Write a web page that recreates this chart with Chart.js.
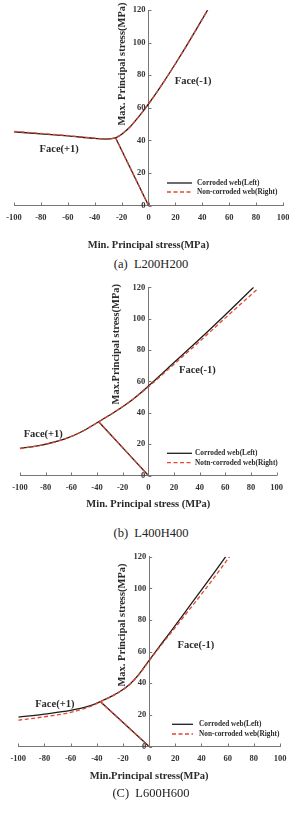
<!DOCTYPE html>
<html>
<head>
<meta charset="utf-8">
<script src="https://cdn.jsdelivr.net/npm/chart.js@4.4.1/dist/chart.umd.min.js"></script>
<style>
  html, body { margin: 0; padding: 0; background: #fff; }
  #page { position: relative; width: 289px; height: 814px; overflow: hidden; }
  #page canvas { position: absolute; left: 0; }
  .cap { position: absolute; left: 0; width: 302px; text-align: center; font: 12.5px 'Liberation Serif', 'Times New Roman', serif; color: #222; line-height: 14px; white-space: pre; }
</style>
</head>
<body>
<div id="page">
  <canvas id="chartA" width="289" height="256" style="top:0px"></canvas>
  <div class="cap" style="top:257px">(a)  L200H200</div>
  <canvas id="chartB" width="289" height="245" style="top:270px"></canvas>
  <div class="cap" style="top:526px">(b)  L400H400</div>
  <canvas id="chartC" width="289" height="247" style="top:540px"></canvas>
  <div class="cap" style="top:786px">(C)  L600H600</div>
</div>
<script>
// tick labels shared by all three panels
const xTicks = [-100, -80, -60, -40, -20, 0, 20, 40, 60, 80, 100];
const yTicks = [0, 20, 40, 60, 80, 100, 120];

// (a) L200H200
const aCorrX = [-100, -80, -60, -40, -32, -26, -22, -18, -14, -10, -5, 0, 10, 20, 30, 44];
const aCorrY = [45.2, 44, 42.7, 41.2, 40.8, 41.2, 42.6, 45, 48, 51.8, 56.9, 62.3, 74.2, 87, 100.4, 120];
const aNonX = [-100, -80, -60, -40, -32, -26, -22, -18, -14, -10, -5, 0, 10, 20, 30, 44];
const aNonY = [45.5, 44.2, 42.9, 41.3, 40.9, 41.3, 42.7, 45.1, 48, 51.8, 56.9, 62.3, 74.2, 87, 100.4, 120];
const aJointX = [-24.5, 0];
const aJointY = [41.6, 0];

// (b) L400H400
const bCorrX = [-100, -83, -65, -52, -38.7, -26, -13, 0, 20, 40, 60, 82];
const bCorrY = [17.2, 19.4, 23.3, 27.9, 34.3, 40.6, 48, 57, 72, 87, 102.5, 120];
const bNonX = [-100, -83, -65, -52, -38.7, -26, -13, 0, 20, 40, 60, 84.5];
const bNonY = [17.2, 19.4, 23.3, 27.9, 34.3, 40.6, 48, 56.5, 71, 85.5, 100.5, 118.5];
const bJointX = [-38.7, 0];
const bJointY = [34.3, 0];

// (c) L600H600
const cCorrX = [-100, -80, -60, -45, -37.4, -30, -22, -15, -10, -5, 0, 10, 20, 30, 40, 50, 58.5];
const cCorrY = [18.6, 20.5, 22.8, 25.8, 28.4, 31.2, 34.9, 39.2, 43.5, 48.8, 54.5, 65.6, 76.6, 87.8, 99, 110.3, 120];
const cNonX = [-100, -80, -60, -45, -37.4, -30, -22, -15, -10, -5, 0, 10, 20, 30, 40, 50, 61.5];
const cNonY = [16.6, 18.8, 21.6, 25.3, 28.2, 31.1, 34.8, 39, 43.3, 48.5, 54.2, 64.9, 75.3, 85.8, 96.3, 107.2, 120];
const cJointX = [-37.4, 0];
const cJointY = [28.4, 0];

const serif = "'Liberation Serif', 'Times New Roman', serif";
const black = '#1c1c1c';
const red = '#e4472f';

Chart.defaults.font.family = serif;

const toPts = (xs, ys) => xs.map((x, i) => ({ x, y: ys[i] }));

// draws inward ticks, y tick labels, the rotated y title, the Face labels and the legend
const extras = {
  id: 'extras',
  afterDraw(chart) {
    const o = chart.options.plugins.extras;
    const { ctx, scales: { x, y } } = chart;
    const x0 = x.getPixelForValue(0);
    ctx.save();
    ctx.strokeStyle = '#777';
    ctx.lineWidth = 1;
    ctx.beginPath();
    xTicks.forEach(v => {
      const px = Math.round(x.getPixelForValue(v)) + 0.5;
      ctx.moveTo(px, y.bottom);
      ctx.lineTo(px, y.bottom - 3);
    });
    yTicks.forEach(v => {
      const py = Math.round(y.getPixelForValue(v)) + 0.5;
      ctx.moveTo(x0, py);
      ctx.lineTo(x0 + 3, py);
    });
    ctx.stroke();

    ctx.fillStyle = '#333';
    ctx.font = 'bold 8.5px ' + serif;
    ctx.textAlign = 'right';
    ctx.textBaseline = 'middle';
    yTicks.forEach(v => {
      ctx.fillText(String(v), x0 - 3, y.getPixelForValue(v));
    });

    ctx.fillStyle = '#2a2a2a';
    ctx.font = 'bold 10.5px ' + serif;
    ctx.textAlign = 'center';
    ctx.save();
    ctx.translate(x0 + o.yTitleDx, o.yTitleY);
    ctx.rotate(-Math.PI / 2);
    ctx.fillText(o.yTitle, 0, 0);
    ctx.restore();

    o.faces.forEach(f => {
      ctx.fillText(f.text, x.getPixelForValue(f.x), y.getPixelForValue(f.y));
    });

    ctx.font = 'bold 7.3px ' + serif;
    ctx.textAlign = 'left';
    chart.data.datasets.slice(0, 2).forEach((ds, i) => {
      const ly = o.legend.y[i];
      ctx.strokeStyle = ds.borderColor;
      ctx.lineWidth = 1.3;
      ctx.setLineDash(ds.borderDash || []);
      ctx.beginPath();
      ctx.moveTo(o.legend.x1, ly);
      ctx.lineTo(o.legend.x2, ly);
      ctx.stroke();
      ctx.setLineDash([]);
      ctx.fillStyle = '#2a2a2a';
      ctx.fillText(ds.label, o.legend.tx, ly);
    });
    ctx.restore();
  }
};

function makeChart(id, p) {
  const tickFont = { size: 8.5, weight: 'bold', family: serif };
  const line = (label, xs, ys, color, dash, order) => ({
    label, data: toPts(xs, ys), showLine: true, borderColor: color, borderWidth: 1.3,
    borderDash: dash, pointRadius: 0, cubicInterpolationMode: 'monotone', order
  });
  return new Chart(document.getElementById(id), {
    type: 'scatter',
    data: {
      datasets: [
        line(p.leg1, p.corrX, p.corrY, black, [], 1),
        line(p.leg2, p.nonX, p.nonY, red, [4, 2.5], 0),
        line('', p.jointX, p.jointY, black, [], 1),
        line('', p.jointX, p.jointY, red, [4, 2.5], 0)
      ]
    },
    options: {
      responsive: false,
      animation: false,
      layout: { padding: p.pad },
      plugins: {
        legend: { display: false },
        tooltip: { enabled: false },
        extras: p.extras
      },
      scales: {
        x: {
          type: 'linear', position: 'bottom', min: -100, max: 100,
          afterBuildTicks: s => { s.ticks = xTicks.map(v => ({ value: v })); },
          ticks: { font: tickFont, color: '#333', padding: 7, maxRotation: 0, autoSkip: false },
          grid: { drawOnChartArea: false, drawTicks: false },
          border: { color: '#777', width: 1 },
          title: { display: true, text: p.xTitle, font: { size: 10.5, weight: 'bold', family: serif }, color: '#2a2a2a', padding: { top: 0, bottom: 4 } },
          afterFit: s => { s.height = p.axisH; s.paddingLeft = 0; s.paddingRight = 0; }
        },
        y: {
          type: 'linear', position: { x: 0 }, min: 0, max: 120,
          afterBuildTicks: s => { s.ticks = yTicks.map(v => ({ value: v })); },
          ticks: { display: false },
          grid: { drawOnChartArea: false, drawTicks: false },
          border: { color: '#777', width: 1 }
        }
      }
    },
    plugins: [extras]
  });
}

makeChart('chartA', {
  corrX: aCorrX, corrY: aCorrY, nonX: aNonX, nonY: aNonY, jointX: aJointX, jointY: aJointY,
  leg1: 'Corroded web(Left)', leg2: 'Non-corroded web(Right)',
  xTitle: 'Min. Principal stress(MPa)',
  pad: { left: 14, right: 6, top: 10, bottom: 0 }, axisH: 50.5,
  extras: {
    yTitle: 'Max. Principal stress(MPa)', yTitleDx: -26.7, yTitleY: 64,
    faces: [{ text: 'Face(+1)', x: -66.4, y: 34.5 }, { text: 'Face(-1)', x: 33.2, y: 76.3 }],
    legend: { x1: 167, x2: 192, tx: 197, y: [183, 192] }
  }
});

makeChart('chartB', {
  corrX: bCorrX, corrY: bCorrY, nonX: bNonX, nonY: bNonY, jointX: bJointX, jointY: bJointY,
  leg1: 'Corroded web(Left)', leg2: 'Notn-corroded web(Right)',
  xTitle: 'Min. Principal stress (MPa)',
  pad: { left: 20, right: 12.3, top: 17.3, bottom: 0 }, axisH: 39.5,
  extras: {
    yTitle: 'Max.Principal stress(MPa)', yTitleDx: -32.4, yTitleY: 74.2,
    faces: [{ text: 'Face(+1)', x: -81.9, y: 26.3 }, { text: 'Face(-1)', x: 38.2, y: 66.8 }],
    legend: { x1: 167, x2: 192, tx: 195, y: [183.3, 192.7] }
  }
});

makeChart('chartC', {
  corrX: cCorrX, corrY: cCorrY, nonX: cNonX, nonY: cNonY, jointX: cJointX, jointY: cJointY,
  leg1: 'Corroded web(Left)', leg2: 'Non-corroded web(Right)',
  xTitle: 'Min.Principal stress(MPa)',
  pad: { left: 18.3, right: 9, top: 16.7, bottom: 0 }, axisH: 40.5,
  extras: {
    yTitle: 'Max. Principal stress(MPa)', yTitleDx: -27.3, yTitleY: 85,
    faces: [{ text: 'Face(+1)', x: -72.1, y: 26.4 }, { text: 'Face(-1)', x: 35.7, y: 63.7 }],
    legend: { x1: 172, x2: 193, tx: 199, y: [184.3, 194] }
  }
});
</script>
</body>
</html>
